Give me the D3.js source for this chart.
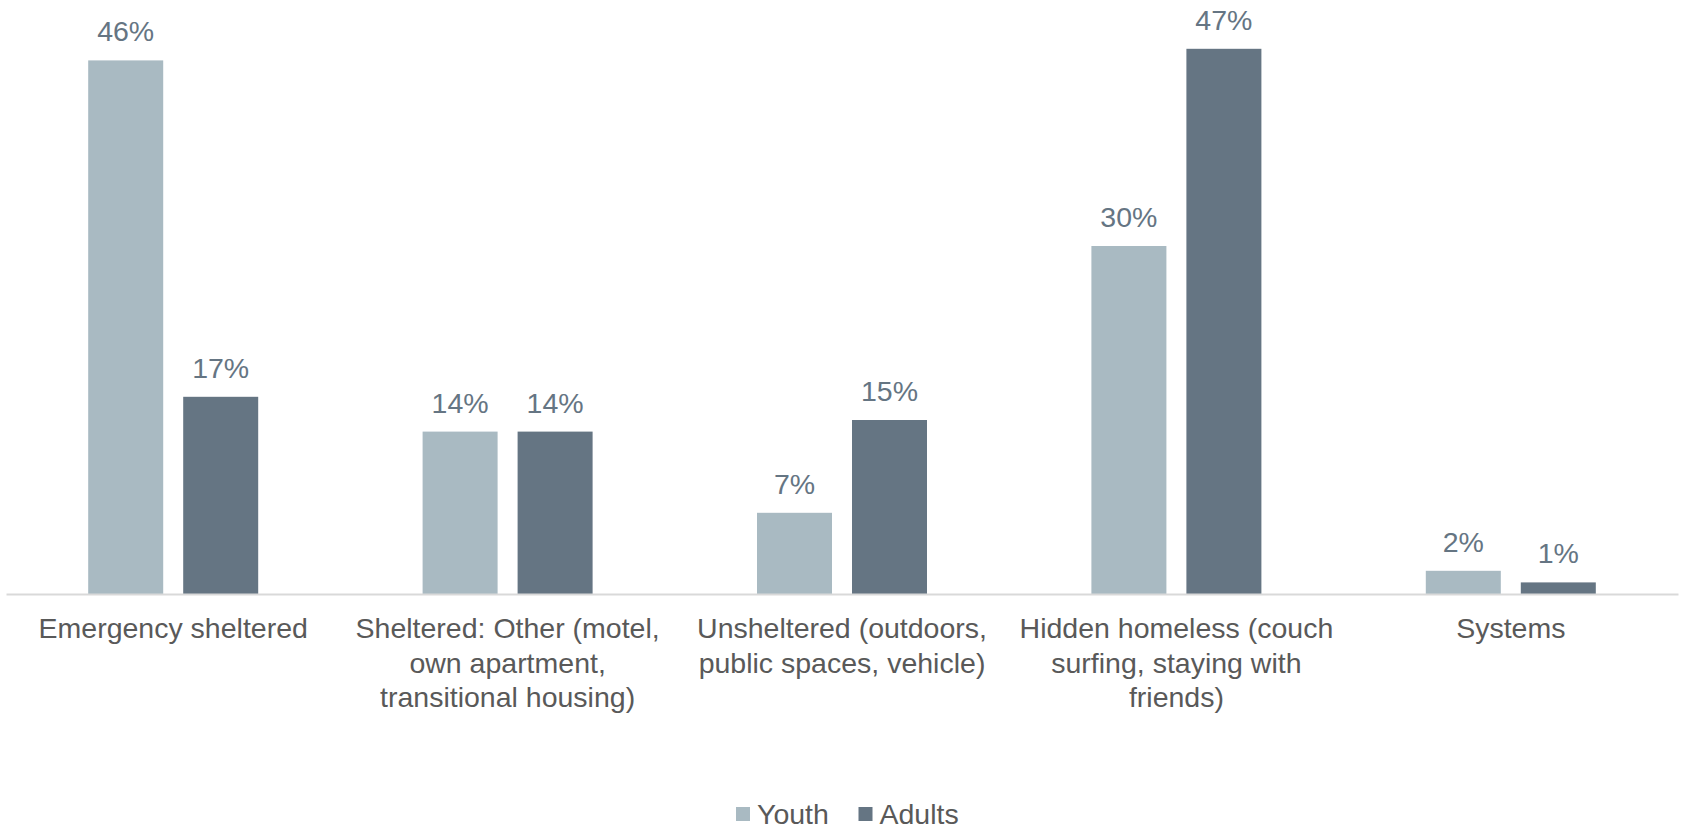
<!DOCTYPE html>
<html>
<head>
<meta charset="utf-8">
<script src="https://cdn.jsdelivr.net/npm/d3@7"></script>
<style>
  html, body { margin: 0; padding: 0; background: #ffffff; }
  svg { display: block; font-family: "Liberation Sans", Arial, sans-serif; }
</style>
</head>
<body>
<svg id="chart" width="1685" height="829"></svg>
<script>
// Living situation categories (each entry is the wrapped label lines)
const categories = [
  ["Emergency sheltered"],
  ["Sheltered: Other (motel,", "own apartment,", "transitional housing)"],
  ["Unsheltered (outdoors,", "public spaces, vehicle)"],
  ["Hidden homeless (couch", "surfing, staying with", "friends)"],
  ["Systems"]
];
const seriesNames = ["Youth", "Adults"];
const youthValues = [46, 14, 7, 30, 2];
const adultValues = [17, 14, 15, 47, 1];

const colors = { Youth: "#a9bac2", Adults: "#657583" };

const svg = d3.select("#chart");
const baseY = 594;

const catKeys = categories.map((c, i) => i);
const x0 = d3.scaleBand().domain(catKeys).range([6, 1678]).paddingInner(0).paddingOuter(0);
const groupW = 170;
const x1 = d3.scaleBand().domain(seriesNames).range([0, groupW]).paddingInner(0.2105).paddingOuter(0);
const y = d3.scaleLinear().domain([0, 50]).range([baseY, baseY - 580]);

const rows = catKeys.map(i => ({
  cat: i,
  values: [
    { key: "Youth", value: youthValues[i] },
    { key: "Adults", value: adultValues[i] }
  ]
}));

const groups = svg.append("g").selectAll("g")
  .data(rows)
  .join("g")
  .attr("transform", d => `translate(${x0(d.cat) + (x0.bandwidth() - groupW) / 2},0)`);

groups.selectAll("rect")
  .data(d => d.values)
  .join("rect")
  .attr("x", d => x1(d.key))
  .attr("y", d => y(d.value))
  .attr("width", x1.bandwidth())
  .attr("height", d => y(0) - y(d.value))
  .attr("fill", d => colors[d.key]);

groups.selectAll("text.val")
  .data(d => d.values)
  .join("text")
  .attr("class", "val")
  .attr("x", d => x1(d.key) + x1.bandwidth() / 2)
  .attr("y", d => y(d.value) - 19)
  .attr("text-anchor", "middle")
  .attr("font-size", "28.5px")
  .attr("fill", "#657583")
  .text(d => d.value + "%");

// Category axis
const axis = svg.append("g")
  .attr("transform", `translate(0,${baseY})`)
  .call(d3.axisBottom(x0).tickSize(0).tickFormat(""));
axis.select(".domain").attr("stroke", "#d9d9d9").attr("stroke-width", 2);

axis.selectAll(".tick text").remove();
axis.selectAll(".tick").each(function(i) {
  const t = d3.select(this).append("text")
    .attr("text-anchor", "middle")
    .attr("font-size", "28.5px")
    .attr("fill", "#595959")
    .attr("y", 44);
  categories[i].forEach((line, k) => {
    t.append("tspan").attr("x", 0).attr("dy", k === 0 ? 0 : 34.5).text(line);
  });
});

// Legend
const legend = svg.append("g").attr("transform", "translate(736,814)");
const legendItems = legend.selectAll("g")
  .data(seriesNames)
  .join("g")
  .attr("transform", (d, i) => `translate(${i * 122.5},0)`);
legendItems.append("rect")
  .attr("x", 0).attr("y", -7)
  .attr("width", 14).attr("height", 14)
  .attr("fill", d => colors[d]);
legendItems.append("text")
  .attr("x", 21).attr("y", 10)
  .attr("font-size", "28.5px")
  .attr("fill", "#595959")
  .text(d => d);
</script>
</body>
</html>
